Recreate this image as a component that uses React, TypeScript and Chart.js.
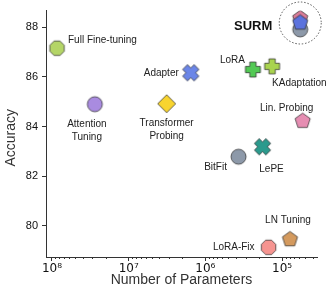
import React, { useEffect, useRef } from "react";
import { Chart, registerables } from "chart.js";
Chart.register(...registerables);

// ---- data ----
const METHODS = ["Full Fine-tuning", "Attention Tuning", "Transformer Probing", "Adapter", "LoRA", "KAdaptation", "Lin. Probing", "BitFit", "LePE", "LN Tuning", "LoRA-Fix"];
const PARAMS = [86e6, 2.76e7, 3.2e6, 1.55e6, 2.4e5, 1.35e5, 5.4e4, 3.7e5, 1.8e5, 7.9e4, 1.5e5];
const ACCURACY = [87.16, 84.9, 84.92, 86.17, 86.3, 86.43, 84.25, 82.78, 83.18, 79.47, 79.12];
const SHAPES = ["octagon", "circle", "diamond", "x", "plus", "plus", "pentagon", "circle", "x", "pentagon", "octagon"];
const COLORS = ["#b4d567", "#a98be0", "#f8d42f", "#6b86e8", "#52c954", "#a9d34e", "#e68db2", "#8d99a9", "#2b9a8d", "#d49a5e", "#f69490"];

// SURM markers, listed top-most first
const SURM_PARAMS = [5.8e4, 5.8e4, 5.8e4];
const SURM_ACCURACY = [88.22, 88.4, 87.92];
const SURM_SHAPES = ["pentagon", "pentagon", "circle"];
const SURM_COLORS = ["#5b72dd", "#d97c98", "#8d99a9"];

const X_TICKS = [1e8, 1e7, 1e6, 1e5];
const X_TICK_LABELS = ["10⁸", "10⁷", "10⁶", "10⁵"];
const Y_TICKS = [80, 82, 84, 86, 88];

// label placement (offset from the point, pixels)
const LABELS: { idx: number; lines: string[]; dx: number; dy: number; align: CanvasTextAlign }[] = [
  { idx: 0, lines: ["Full Fine-tuning"], dx: 11, dy: -8, align: "left" },
  { idx: 1, lines: ["Attention", "Tuning"], dx: -8, dy: 20, align: "center" },
  { idx: 2, lines: ["Transformer", "Probing"], dx: 0, dy: 20, align: "center" },
  { idx: 3, lines: ["Adapter"], dx: -12, dy: 0, align: "right" },
  { idx: 4, lines: ["LoRA"], dx: -8, dy: -9, align: "right" },
  { idx: 5, lines: ["KAdaptation"], dx: 0, dy: 17, align: "left" },
  { idx: 6, lines: ["Lin. Probing"], dx: -16, dy: -12, align: "center" },
  { idx: 7, lines: ["BitFit"], dx: -23, dy: 11, align: "center" },
  { idx: 8, lines: ["LePE"], dx: 9, dy: 22, align: "center" },
  { idx: 9, lines: ["LN Tuning"], dx: -2, dy: -18, align: "center" },
  { idx: 10, lines: ["LoRA-Fix"], dx: -14, dy: 0, align: "right" },
];

function makeMarker(shape: string, fill: string, size: number): HTMLCanvasElement {
  const S = Math.ceil(size + 4);
  const c = document.createElement("canvas");
  c.width = S;
  c.height = S;
  const ctx = c.getContext("2d")!;
  ctx.translate(S / 2, S / 2);
  const r = size / 2;
  ctx.beginPath();
  const poly = (n: number, start: number, rad: number) => {
    for (let i = 0; i < n; i++) {
      const a = start + (i * 2 * Math.PI) / n;
      const px = rad * Math.cos(a), py = rad * Math.sin(a);
      if (i === 0) ctx.moveTo(px, py); else ctx.lineTo(px, py);
    }
    ctx.closePath();
  };
  const plus = (rot: number, rr: number) => {
    const w = rr * 0.42;
    const pts = [[-w, -rr], [w, -rr], [w, -w], [rr, -w], [rr, w], [w, w], [w, rr], [-w, rr], [-w, w], [-rr, w], [-rr, -w], [-w, -w]];
    pts.forEach(([x, y], i) => {
      const px = x * Math.cos(rot) - y * Math.sin(rot);
      const py = x * Math.sin(rot) + y * Math.cos(rot);
      if (i === 0) ctx.moveTo(px, py); else ctx.lineTo(px, py);
    });
    ctx.closePath();
  };
  if (shape === "circle") ctx.arc(0, 0, r, 0, Math.PI * 2);
  else if (shape === "octagon") poly(8, Math.PI / 8, r * 1.04);
  else if (shape === "pentagon") { ctx.translate(0, r * 0.1); poly(5, -Math.PI / 2, r * 1.06); }
  else if (shape === "diamond") poly(4, -Math.PI / 2, r * 1.12);
  else if (shape === "plus") plus(0, r);
  else if (shape === "x") plus(Math.PI / 4, r * 1.08);
  ctx.fillStyle = fill;
  ctx.fill();
  ctx.lineWidth = 0.9;
  ctx.strokeStyle = "rgba(40,40,40,0.8)";
  ctx.stroke();
  return c;
}

const annotations = {
  id: "annotations",
  afterDatasetsDraw(chart: any) {
    const ctx = chart.ctx;
    const xs = chart.scales.x, ys = chart.scales.y;
    ctx.save();
    ctx.fillStyle = "#222";
    ctx.font = "10px 'Liberation Sans', Arial, sans-serif";
    ctx.textBaseline = "middle";
    LABELS.forEach((l) => {
      const px = xs.getPixelForValue(PARAMS[l.idx]);
      const py = ys.getPixelForValue(ACCURACY[l.idx]);
      ctx.textAlign = l.align;
      l.lines.forEach((t, i) => ctx.fillText(t, px + l.dx, py + l.dy + i * 13));
    });
    // SURM
    const sx = xs.getPixelForValue(SURM_PARAMS[0]);
    const sy = ys.getPixelForValue(SURM_ACCURACY[0]);
    ctx.font = "bold 13px 'Liberation Sans', Arial, sans-serif";
    ctx.textAlign = "right";
    ctx.fillStyle = "#111";
    ctx.fillText("SURM", sx - 28, sy + 4);
    ctx.beginPath();
    ctx.setLineDash([1.5, 1.8]);
    ctx.strokeStyle = "#555";
    ctx.lineWidth = 1;
    ctx.arc(sx, sy + 1, 21, 0, Math.PI * 2);
    ctx.stroke();
    ctx.setLineDash([]);
    // minor ticks on x axis
    ctx.strokeStyle = "#333";
    ctx.lineWidth = 1;
    const bottom = chart.chartArea.bottom;
    for (let e = 4; e <= 8; e++) {
      for (let m = 2; m <= 9; m++) {
        const v = m * Math.pow(10, e);
        if (v < xs.min || v > xs.max) continue;
        const p = Math.round(xs.getPixelForValue(v)) + 0.5;
        ctx.beginPath();
        ctx.moveTo(p, bottom);
        ctx.lineTo(p, bottom + 2);
        ctx.stroke();
      }
    }
    // axis titles
    ctx.fillStyle = "#333";
    ctx.font = "14px 'Liberation Sans', Arial, sans-serif";
    ctx.textAlign = "center";
    ctx.fillText("Number of Parameters", (chart.chartArea.left + chart.chartArea.right) / 2, 280);
    ctx.translate(11, (chart.chartArea.top + chart.chartArea.bottom) / 2 + 4);
    ctx.rotate(-Math.PI / 2);
    ctx.fillText("Accuracy", 0, 0);
    ctx.restore();
  },
};

export default function App() {
  const ref = useRef<HTMLCanvasElement>(null);
  useEffect(() => {
    const datasets: any[] = [];
    // Chart.js paints the first dataset on top, so SURM goes first
    SURM_PARAMS.forEach((p, i) => {
      datasets.push({
        label: "SURM " + i,
        data: [{ x: p, y: SURM_ACCURACY[i] }],
        pointStyle: makeMarker(SURM_SHAPES[i], SURM_COLORS[i], 15),
        pointRadius: 7,
      });
    });
    METHODS.forEach((m, i) => {
      const sz = SHAPES[i] === "diamond" ? 16 : SHAPES[i] === "plus" || SHAPES[i] === "x" ? 15 : 15;
      datasets.push({
        label: m,
        data: [{ x: PARAMS[i], y: ACCURACY[i] }],
        pointStyle: makeMarker(SHAPES[i], COLORS[i], sz),
        pointRadius: 7,
      });
    });
    const chart = new Chart(ref.current!, {
      type: "scatter",
      data: { datasets },
      plugins: [annotations],
      options: {
        animation: false,
        responsive: false,
        layout: { padding: { top: 7, right: 15, left: 0, bottom: 0 } },
        plugins: { legend: { display: false }, tooltip: { enabled: false } },
        scales: {
          x: {
            type: "logarithmic",
            reverse: true,
            min: Math.pow(10, 4.545),
            max: Math.pow(10, 8.078),
            afterBuildTicks: (s: any) => { s.ticks = X_TICKS.map((v) => ({ value: v, major: true })); },
            afterFit: (s: any) => { s.height = 38; },
            ticks: {
              autoSkip: false,
              maxRotation: 0,
              padding: 1,
              color: "#111",
              font: { size: 12, family: "'DejaVu Sans', sans-serif" },
              callback: (v: any) => X_TICK_LABELS[X_TICKS.indexOf(Number(v))] ?? "",
            },
            grid: { drawOnChartArea: false, tickLength: 4, color: "#333" },
            border: { display: true, color: "#333", width: 1 },
          },
          y: {
            min: 78.73,
            max: 88.68,
            afterBuildTicks: (s: any) => { s.ticks = Y_TICKS.map((v) => ({ value: v })); },
            afterFit: (s: any) => { s.width = 46; },
            ticks: {
              padding: 4,
              color: "#111",
              font: { size: 11, family: "'Liberation Sans', Arial, sans-serif" },
            },
            grid: { drawOnChartArea: false, tickLength: 4, color: "#333" },
            border: { display: true, color: "#333", width: 1 },
          },
        },
      },
    });
    return () => chart.destroy();
  }, []);
  return (
    <div style={{ position: "fixed", left: 0, top: 0, width: 332, height: 295, background: "#fff" }}>
      <canvas ref={ref} width={332} height={295} style={{ width: 332, height: 295 }} />
    </div>
  );
}
